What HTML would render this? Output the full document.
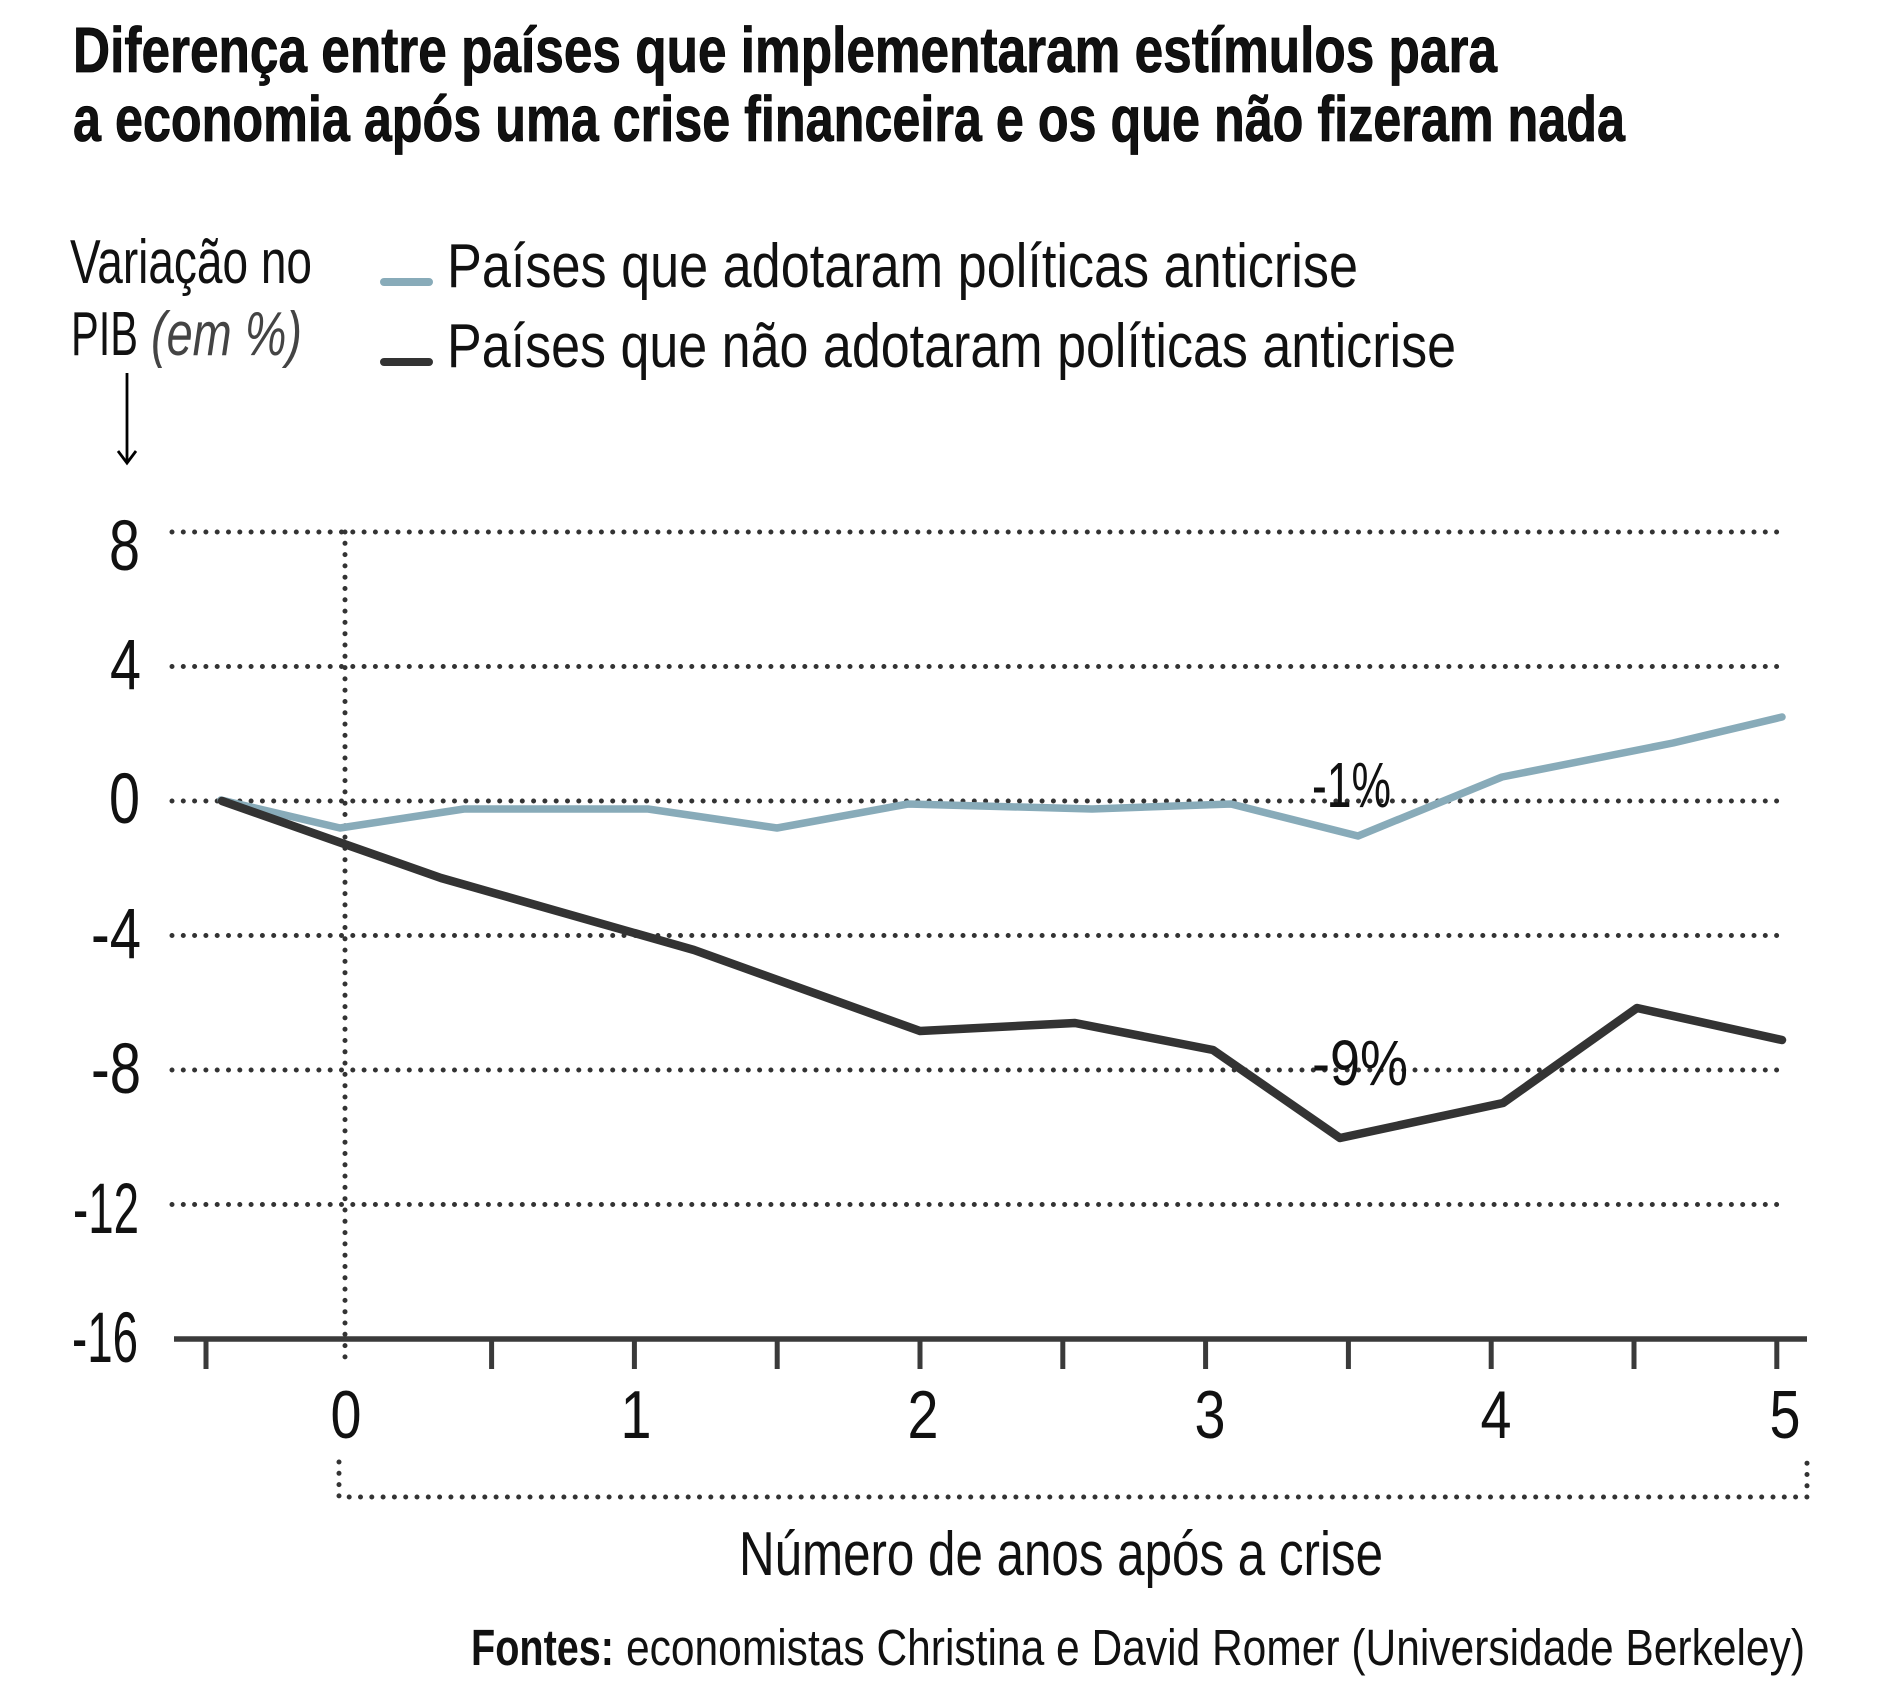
<!DOCTYPE html>
<html>
<head>
<meta charset="utf-8">
<style>
  html, body { margin: 0; padding: 0; background: #ffffff; }
  svg { display: block; }
  text { font-family: "Liberation Sans", "DejaVu Sans", sans-serif; fill: #111; }
</style>
</head>
<body>
<svg width="1878" height="1702" viewBox="0 0 1878 1702" xmlns="http://www.w3.org/2000/svg">
  <rect width="1878" height="1702" fill="#ffffff"/>

  <!-- Title -->
  <text x="73" y="72" font-size="64" font-weight="bold" fill="#000" stroke="#000" stroke-width="0.8" textLength="1424" lengthAdjust="spacingAndGlyphs">Diferença entre países que implementaram estímulos para</text>
  <text x="73" y="141" font-size="64" font-weight="bold" fill="#000" stroke="#000" stroke-width="0.8" textLength="1552" lengthAdjust="spacingAndGlyphs">a economia após uma crise financeira e os que não fizeram nada</text>

  <!-- Y axis label -->
  <text x="70" y="283" font-size="62" textLength="242" lengthAdjust="spacingAndGlyphs">Variação no</text>
  <text x="71" y="355" font-size="62" textLength="67" lengthAdjust="spacingAndGlyphs">PIB</text>
  <text x="151" y="355" font-size="62" font-style="italic" style="fill:#444" textLength="151" lengthAdjust="spacingAndGlyphs">(em %)</text>

  <!-- Arrow -->
  <line x1="127" y1="373" x2="127" y2="462" stroke="#000" stroke-width="2.8"/>
  <polyline points="118,451 127,463 136,451" fill="none" stroke="#000" stroke-width="2.8"/>

  <!-- Legend -->
  <line x1="384" y1="282" x2="429" y2="282" stroke="#88abb9" stroke-width="8" stroke-linecap="round"/>
  <line x1="384" y1="362" x2="429" y2="362" stroke="#333333" stroke-width="8" stroke-linecap="round"/>
  <text x="447" y="287" font-size="62" textLength="911" lengthAdjust="spacingAndGlyphs">Países que adotaram políticas anticrise</text>
  <text x="447" y="367" font-size="62" textLength="1009" lengthAdjust="spacingAndGlyphs">Países que não adotaram políticas anticrise</text>

  <!-- Gridlines (dotted) -->
  <g stroke="#333" stroke-width="5" stroke-linecap="round" stroke-dasharray="0 11.3" fill="none">
    <line x1="172" y1="532" x2="1777" y2="532"/>
    <line x1="172" y1="666.5" x2="1777" y2="666.5"/>
    <line x1="172" y1="801" x2="1777" y2="801"/>
    <line x1="172" y1="935.5" x2="1777" y2="935.5"/>
    <line x1="172" y1="1070" x2="1777" y2="1070"/>
    <line x1="172" y1="1204.5" x2="1777" y2="1204.5"/>
    <line x1="345" y1="532" x2="345" y2="1367"/>
    <!-- bracket -->
    <path d="M339,1462 V1497 H1807 V1462"/>
  </g>

  <!-- Y tick labels -->
  <g font-size="71" text-anchor="end">
    <text x="140" y="570" textLength="31" lengthAdjust="spacingAndGlyphs">8</text>
    <text x="141" y="689" textLength="31" lengthAdjust="spacingAndGlyphs">4</text>
    <text x="140" y="823" textLength="31" lengthAdjust="spacingAndGlyphs">0</text>
    <text x="141" y="958" textLength="50" lengthAdjust="spacingAndGlyphs">-4</text>
    <text x="141" y="1093" textLength="50" lengthAdjust="spacingAndGlyphs">-8</text>
    <text x="139" y="1233" textLength="66" lengthAdjust="spacingAndGlyphs">-12</text>
    <text x="138" y="1362" textLength="66" lengthAdjust="spacingAndGlyphs">-16</text>
  </g>

  <!-- X axis -->
  <line x1="174" y1="1339" x2="1807" y2="1339" stroke="#3a3a3a" stroke-width="5.5"/>
  <g stroke="#3a3a3a" stroke-width="5">
    <line x1="206" y1="1339" x2="206" y2="1369"/>
    <line x1="491.6" y1="1339" x2="491.6" y2="1369"/>
    <line x1="634.4" y1="1339" x2="634.4" y2="1369"/>
    <line x1="777.2" y1="1339" x2="777.2" y2="1369"/>
    <line x1="920" y1="1339" x2="920" y2="1369"/>
    <line x1="1062.8" y1="1339" x2="1062.8" y2="1369"/>
    <line x1="1205.6" y1="1339" x2="1205.6" y2="1369"/>
    <line x1="1348.4" y1="1339" x2="1348.4" y2="1369"/>
    <line x1="1491.2" y1="1339" x2="1491.2" y2="1369"/>
    <line x1="1634" y1="1339" x2="1634" y2="1369"/>
    <line x1="1776.8" y1="1339" x2="1776.8" y2="1369"/>
  </g>

  <!-- X tick labels -->
  <g font-size="68" text-anchor="middle">
    <text x="346" y="1438" textLength="31" lengthAdjust="spacingAndGlyphs">0</text>
    <text x="636" y="1438" textLength="31" lengthAdjust="spacingAndGlyphs">1</text>
    <text x="923" y="1438" textLength="31" lengthAdjust="spacingAndGlyphs">2</text>
    <text x="1210" y="1438" textLength="31" lengthAdjust="spacingAndGlyphs">3</text>
    <text x="1496" y="1438" textLength="31" lengthAdjust="spacingAndGlyphs">4</text>
    <text x="1785" y="1438" textLength="31" lengthAdjust="spacingAndGlyphs">5</text>
  </g>

  <!-- Series -->
  <polyline fill="none" stroke="#88abb9" stroke-width="7.5" stroke-linecap="round" stroke-linejoin="round"
    points="221,800 340,828 464,809 648,809 777,828 908,804 1092,809 1231,804 1358,836 1502,777 1673,743 1782,717"/>
  <polyline fill="none" stroke="#333333" stroke-width="8.5" stroke-linecap="round" stroke-linejoin="round"
    points="222,801 441,878 694,950 920,1031 1075,1023 1213,1050 1340,1138 1503,1103 1637,1008 1782,1040"/>

  <!-- Annotations -->
  <text x="1312" y="807" font-size="64" textLength="79" lengthAdjust="spacingAndGlyphs">-1%</text>
  <text x="1312" y="1085" font-size="64" textLength="96" lengthAdjust="spacingAndGlyphs">-9%</text>

  <!-- X axis title -->
  <text x="739" y="1575" font-size="62" textLength="644" lengthAdjust="spacingAndGlyphs">Número de anos após a crise</text>

  <!-- Source -->
  <text x="471" y="1665" font-size="51" font-weight="bold" fill="#000" textLength="143" lengthAdjust="spacingAndGlyphs">Fontes:</text>
  <text x="626" y="1665" font-size="51" textLength="1179" lengthAdjust="spacingAndGlyphs">economistas Christina e David Romer (Universidade Berkeley)</text>
</svg>
</body>
</html>
